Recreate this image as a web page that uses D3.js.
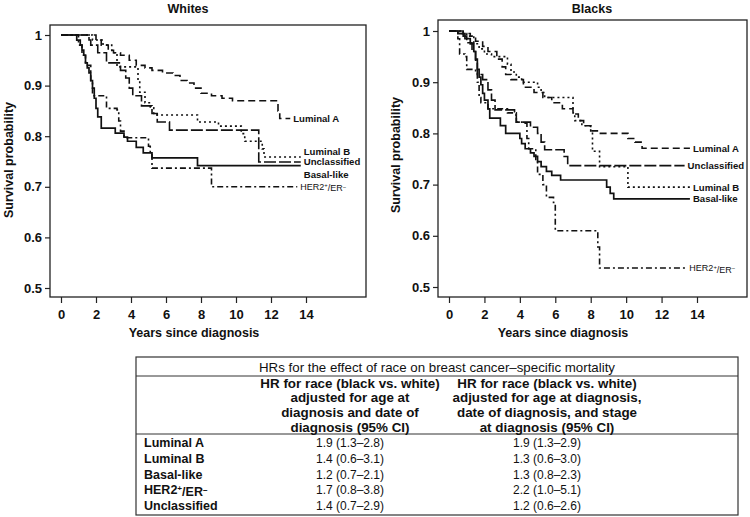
<!DOCTYPE html>
<head>
<meta charset="utf-8">
<title>Breast cancer survival by subtype</title>
<script src="https://cdn.jsdelivr.net/npm/d3@7/dist/d3.min.js"></script>
<style>
body { margin: 0; background: #fff; }
svg text { font-family: "Liberation Sans", Arial, Helvetica, sans-serif; fill: #111; }
.tick text { font-size: 13px; font-weight: bold; }
.tick line { stroke: #222; stroke-width: 1.2; }
</style>
</head>
<body>
<svg id="chart" width="750" height="517"></svg>
<script>
// subtypes, in table order
var subtypes = ["Luminal A", "Luminal B", "Basal-like", "HER2+/ER−", "Unclassified"];
var yTicks = [0.5, 0.6, 0.7, 0.8, 0.9, 1];
var xTicks = [0, 2, 4, 6, 8, 10, 12, 14];

// Kaplan-Meier steps [years, survival]
var whitesLumA = [[0,1],[2.0,0.99],[2.3,0.98],[2.7,0.97],[3.0,0.965],[3.4,0.96],[3.9,0.95],[4.3,0.94],[4.8,0.935],[5.2,0.93],[5.8,0.925],[6.4,0.92],[6.8,0.91],[7.2,0.905],[7.6,0.895],[8.0,0.885],[8.6,0.88],[9.2,0.875],[9.8,0.87],[12.4,0.85],[12.5,0.835],[13.1,0.835]];
var whitesLumB = [[0,1],[1.8,0.99],[2.4,0.98],[2.9,0.965],[3.2,0.937],[4.4,0.91],[4.5,0.887],[4.8,0.866],[5.1,0.856],[5.3,0.842],[7.8,0.828],[9.0,0.82],[10.3,0.805],[10.5,0.79],[11.5,0.775],[11.6,0.759],[13.7,0.759]];
var whitesBasal = [[0,1],[0.9,0.99],[1.1,0.98],[1.2,0.97],[1.3,0.96],[1.4,0.945],[1.5,0.935],[1.6,0.925],[1.7,0.91],[1.8,0.895],[1.9,0.875],[2.0,0.855],[2.1,0.838],[2.3,0.816],[3.1,0.806],[3.6,0.798],[3.8,0.79],[4.3,0.778],[4.7,0.767],[5.2,0.757],[7.8,0.742],[13.7,0.742]];
var whitesHer2 = [[0,1],[1.0,0.98],[1.2,0.96],[1.4,0.94],[1.7,0.91],[1.8,0.88],[2.5,0.88],[2.6,0.855],[3.2,0.852],[3.3,0.83],[3.4,0.81],[3.6,0.797],[5.0,0.78],[5.1,0.765],[5.2,0.737],[8.6,0.70],[13.5,0.70]];
var whitesUncl = [[0,1],[1.6,0.99],[1.7,0.98],[2.1,0.965],[2.6,0.945],[3.4,0.93],[3.7,0.915],[3.9,0.895],[4.1,0.88],[4.6,0.86],[5.2,0.845],[5.5,0.828],[6.2,0.812],[11.3,0.749],[13.7,0.749]];

var blacksLumA = [[0,1],[0.8,0.995],[1.2,0.99],[1.5,0.98],[1.9,0.97],[2.2,0.96],[2.7,0.945],[3.0,0.93],[3.2,0.915],[3.5,0.905],[4.2,0.89],[4.8,0.88],[5.3,0.87],[5.8,0.86],[6.4,0.848],[7.0,0.838],[7.3,0.825],[7.6,0.815],[8.0,0.805],[8.5,0.80],[10.1,0.79],[10.5,0.783],[10.9,0.771],[13.6,0.771]];
var blacksLumB = [[0,1],[0.6,0.995],[1.0,0.99],[1.4,0.975],[1.7,0.965],[2.0,0.955],[2.4,0.95],[3.3,0.935],[3.5,0.92],[3.8,0.91],[4.1,0.9],[5.0,0.89],[5.2,0.88],[5.4,0.87],[7.0,0.84],[7.1,0.825],[7.5,0.815],[8.0,0.805],[8.1,0.765],[8.5,0.735],[10.1,0.695],[13.6,0.695]];
var blacksBasal = [[0,1],[0.5,0.995],[0.9,0.985],[1.2,0.975],[1.4,0.96],[1.5,0.945],[1.6,0.925],[1.7,0.91],[1.8,0.895],[1.9,0.878],[2.0,0.865],[2.2,0.848],[2.3,0.83],[2.9,0.815],[3.2,0.80],[4.0,0.79],[4.1,0.78],[4.3,0.77],[4.6,0.762],[4.8,0.755],[5.0,0.745],[5.2,0.735],[5.5,0.726],[5.8,0.718],[6.3,0.709],[8.9,0.695],[9.1,0.683],[9.3,0.672],[13.6,0.672]];
var blacksHer2 = [[0,1],[0.5,0.985],[0.6,0.955],[0.9,0.95],[1.0,0.925],[1.5,0.92],[1.6,0.9],[1.7,0.87],[1.8,0.86],[2.2,0.848],[3.3,0.84],[3.8,0.822],[4.3,0.82],[4.4,0.79],[4.5,0.77],[4.9,0.745],[5.0,0.72],[5.3,0.70],[5.5,0.675],[5.9,0.665],[6.0,0.61],[8.4,0.578],[8.5,0.537],[13.4,0.537]];
var blacksUncl = [[0,1],[0.8,0.99],[1.0,0.977],[1.3,0.96],[1.5,0.943],[1.6,0.915],[1.9,0.905],[2.2,0.885],[2.4,0.865],[2.6,0.846],[3.7,0.836],[3.8,0.822],[4.6,0.812],[5.0,0.80],[5.2,0.783],[5.4,0.768],[6.5,0.755],[6.7,0.737],[13.3,0.737]];

// table of hazard ratios
var tableTitle = "HRs for the effect of race on breast cancer–specific mortality";
var header1 = ["HR for race (black vs. white)", "adjusted for age at", "diagnosis and date of", "diagnosis (95% CI)"];
var header2 = ["HR for race (black vs. white)", "adjusted for age at diagnosis,", "date of diagnosis, and stage", "at diagnosis (95% CI)"];
var hrModel1 = ["1.9 (1.3–2.8)", "1.4 (0.6–3.1)", "1.2 (0.7–2.1)", "1.7 (0.8–3.8)", "1.4 (0.7–2.9)"];
var hrModel2 = ["1.9 (1.3–2.9)", "1.3 (0.6–3.0)", "1.3 (0.8–2.3)", "2.2 (1.0–5.1)", "1.2 (0.6–2.6)"];

var dashes = {"Luminal A": "7,4", "Luminal B": "2,3", "Basal-like": null, "HER2+/ER−": "6,3,2,3", "Unclassified": "12,3"};

var svg = d3.select("#chart");

// writes a subtype name, HER2+/ER− gets its superscripts
function writeName(sel, name) {
	if (name == "HER2+/ER−") {
		sel.append("tspan").text("HER2");
		sel.append("tspan").text("+").attr("font-size", "0.65em").attr("dy", "-0.45em");
		sel.append("tspan").text("/ER").attr("dy", "0.45em");
		sel.append("tspan").text("−").attr("font-size", "0.65em").attr("dy", "-0.45em");
	} else {
		sel.text(name);
	}
}

function panel(p) {
	var x = d3.scaleLinear().domain([0, 14]).range(p.xr);
	var y = d3.scaleLinear().domain([0.5, 1]).range(p.yr);
	var g = svg.append("g");

	g.append("rect")
		.attr("x", p.box[0]).attr("y", p.box[1])
		.attr("width", p.box[2] - p.box[0]).attr("height", p.box[3] - p.box[1])
		.attr("fill", "none").attr("stroke", "#222").attr("stroke-width", 1.3);

	var ya = g.append("g").attr("transform", "translate(" + p.box[0] + ",0)")
		.call(d3.axisLeft(y).tickValues(yTicks).tickSize(5).tickPadding(3)
			.tickFormat(function(d) { return d == 1 ? "1" : d3.format(".1f")(d); }));
	ya.select(".domain").remove();

	var xa = g.append("g").attr("transform", "translate(0," + p.box[3] + ")")
		.call(d3.axisBottom(x).tickValues(xTicks).tickSize(6).tickPadding(4));
	xa.select(".domain").remove();
	xa.selectAll(".tick text").attr("dy", "0.9em");

	g.append("text").attr("x", p.titleX).attr("y", 13).attr("text-anchor", "middle")
		.attr("font-size", 12.5).attr("font-weight", "bold").text(p.title);

	g.append("text").attr("transform", "translate(" + p.ylabX + "," + p.ylabY + ") rotate(-90)")
		.attr("text-anchor", "middle").attr("font-size", 12.5).attr("font-weight", "bold")
		.text("Survival probability");

	g.append("text").attr("x", p.xlabX).attr("y", 337).attr("text-anchor", "middle")
		.attr("font-size", 12.5).attr("font-weight", "bold").text("Years since diagnosis");

	var line = d3.line().curve(d3.curveStepAfter)
		.x(function(d) { return x(d[0]); })
		.y(function(d) { return y(d[1]); });

	p.curves.forEach(function(c, i) {
		var name = subtypes[i];
		g.append("path").datum(c)
			.attr("d", line)
			.attr("fill", "none").attr("stroke", "#111")
			.attr("stroke-width", name == "Basal-like" ? 1.7 : 1.6)
			.attr("stroke-dasharray", dashes[name]);
		var last = c[c.length - 1];
		var t = g.append("text")
			.attr("x", x(last[0]) + 3)
			.attr("y", y(last[1]) + (p.nudge[name] || 0))
			.attr("dy", "0.35em")
			.attr("font-size", name == "HER2+/ER−" ? 9 : 9.6)
			.attr("font-weight", name == "HER2+/ER−" ? "normal" : "bold");
		writeName(t, name);
	});
}

panel({
	title: "Whites", titleX: 188, box: [50, 25, 366, 297], xr: [61, 306], yr: [288, 35],
	ylabX: 13, ylabY: 160, xlabX: 194,
	curves: [whitesLumA, whitesLumB, whitesBasal, whitesHer2, whitesUncl],
	nudge: {"Luminal B": -5, "Basal-like": 9}
});
panel({
	title: "Blacks", titleX: 592, box: [438, 20, 747, 297], xr: [449, 697], yr: [287, 31],
	ylabX: 400, ylabY: 155, xlabX: 563,
	curves: [blacksLumA, blacksLumB, blacksBasal, blacksHer2, blacksUncl],
	nudge: {}
});

// table
var tb = svg.append("g");
var tx0 = 136, tx1 = 738, ty0 = 357, ty1 = 515;
var col1 = 350, col2 = 547;
tb.append("rect").attr("x", tx0).attr("y", ty0).attr("width", tx1 - tx0).attr("height", ty1 - ty0)
	.attr("fill", "none").attr("stroke", "#333").attr("stroke-width", 1.2);
[376, 434].forEach(function(yy) {
	tb.append("line").attr("x1", tx0).attr("x2", tx1).attr("y1", yy).attr("y2", yy)
		.attr("stroke", "#333").attr("stroke-width", 1);
});
tb.append("text").attr("x", (tx0 + tx1) / 2).attr("y", 367).attr("dy", "0.35em")
	.attr("text-anchor", "middle").attr("font-size", 13.3).text(tableTitle);

header1.forEach(function(s, i) {
	tb.append("text").attr("x", col1).attr("y", 383 + i * 14.7).attr("dy", "0.35em")
		.attr("text-anchor", "middle").attr("font-size", 13.4).attr("font-weight", "bold").text(s);
});
header2.forEach(function(s, i) {
	tb.append("text").attr("x", col2).attr("y", 383 + i * 14.7).attr("dy", "0.35em")
		.attr("text-anchor", "middle").attr("font-size", 13.4).attr("font-weight", "bold").text(s);
});
subtypes.forEach(function(name, i) {
	var yy = 443 + i * 15.7;
	var t = tb.append("text").attr("x", 144).attr("y", yy).attr("dy", "0.35em")
		.attr("font-size", 12.5).attr("font-weight", "bold");
	writeName(t, name);
	tb.append("text").attr("x", col1).attr("y", yy).attr("dy", "0.35em")
		.attr("text-anchor", "middle").attr("font-size", 12).text(hrModel1[i]);
	tb.append("text").attr("x", col2).attr("y", yy).attr("dy", "0.35em")
		.attr("text-anchor", "middle").attr("font-size", 12).text(hrModel2[i]);
});
</script>
</body>
